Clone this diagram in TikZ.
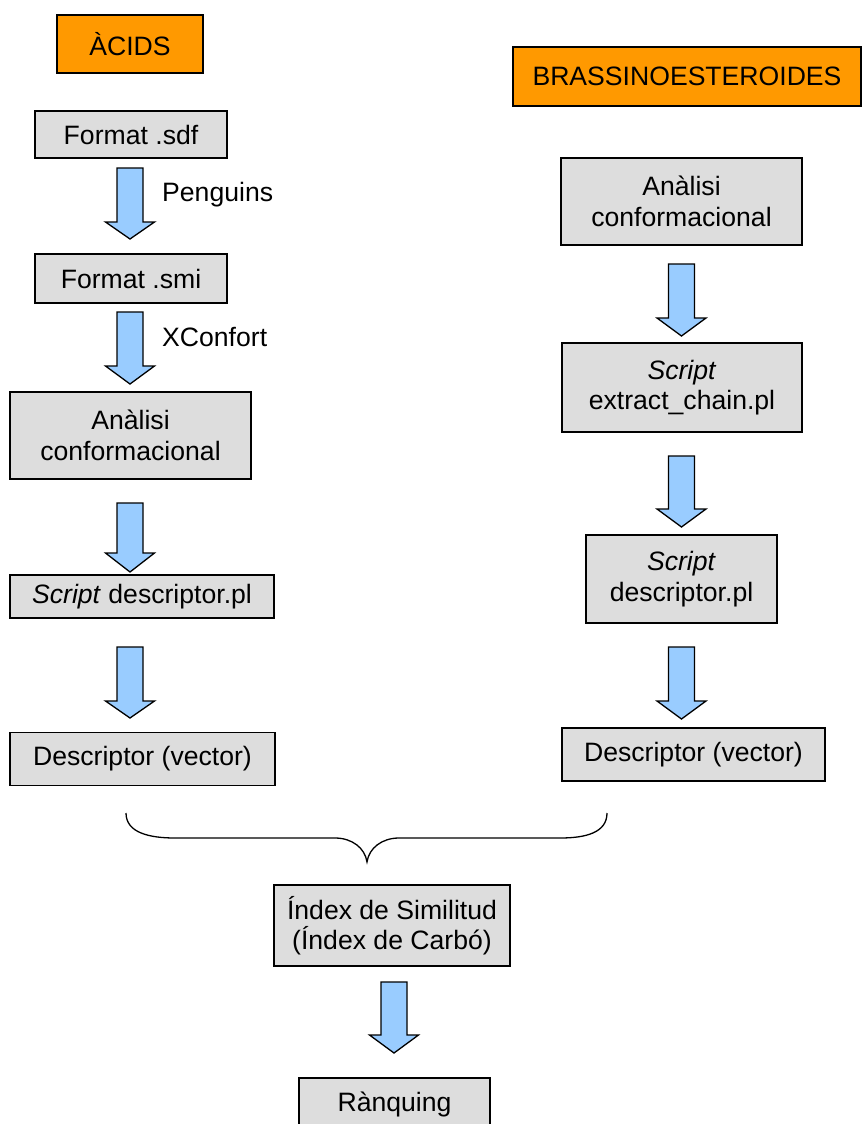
\documentclass[tikz,border=0pt]{standalone}
\usepackage{fontspec}
\setmainfont{Liberation Sans}
\begin{document}
\begin{tikzpicture}[x=1pt,y=-1pt,
  every node/.style={font=\fontsize{26.6}{30.5}\selectfont, inner sep=0pt, align=center},
  procbox/.style={draw=black, line width=1.2pt, fill=boxgray},
  titlebox/.style={draw=black, line width=2.8pt, fill=titleorange},
  bigarrow/.style={draw=black, line width=1.3pt, fill=arrowblue, line join=miter},
  label/.style={anchor=base west},
  bracket/.style={draw=black, line width=1.3pt}]
\definecolor{boxgray}{HTML}{DDDDDD}
\definecolor{titleorange}{HTML}{FF9900}
\definecolor{arrowblue}{HTML}{99CCFF}

\useasboundingbox (0,0) rectangle (863,1124);
\clip (0,0) rectangle (863,1124);

% hollow down arrow: centre x, top y, start of head y, tip y
\newcommand\flowarrow[4]{%
  \draw[bigarrow] (#1-13,#2) -- (#1+13,#2) -- (#1+13,#3) -- (#1+24.5,#3)
    -- (#1,#4) -- (#1-24.5,#3) -- (#1-13,#3) -- cycle;}

% left column: acids
\node[titlebox, minimum width=146pt, minimum height=58pt] (acids) at (130,44) {ÀCIDS};
\node[procbox, minimum width=192pt, minimum height=47pt] (sdf) at (131,134.5) {Format .sdf};
\node[procbox, minimum width=192pt, minimum height=49pt] (smi) at (131,278.5) {Format .smi};
\node[procbox, minimum width=241pt, minimum height=87pt] (confL) at (130.5,435.5) {Anàlisi\\conformacional};
\node[procbox, minimum width=264pt, minimum height=43pt] (scriptL) at (142,596.5) {\textit{Script} descriptor.pl};
\node[procbox, minimum width=265pt, minimum height=53pt] (descL) at (142.5,759) {Descriptor (vector)};

\flowarrow{130}{168}{222}{239}
\flowarrow{130}{312}{366}{384}
\flowarrow{130}{503}{553}{572}
\flowarrow{130}{647}{701}{718}

\node[label] (penguins) at (162,201) {Penguins};
\node[label] (xconfort) at (162,346) {XConfort};

% right column: brassinosteroids
\node[titlebox, minimum width=348pt, minimum height=59pt] (brass) at (687,76.5) {BRASSINOESTEROIDES};
\node[procbox, minimum width=241pt, minimum height=87pt] (confR) at (681.5,201.5) {Anàlisi\\conformacional};
\node[procbox, minimum width=240pt, minimum height=89pt] (chainR) at (682,387.5) {\textit{Script}\\extract\_chain.pl};
\node[procbox, minimum width=191pt, minimum height=88pt] (scriptR) at (681.5,579) {\textit{Script}\\descriptor.pl};
\node[procbox, minimum width=263pt, minimum height=53pt] (descR) at (693.5,754.5) {Descriptor (vector)};

\flowarrow{681.5}{264}{318}{336}
\flowarrow{681.5}{456}{509}{527}
\flowarrow{681.5}{647}{701}{719}

% joining brace
\coordinate (braceL) at (126,813);
\coordinate (braceR) at (607,813);
\coordinate (braceTip) at (367,862);
\draw[bracket] (braceL) .. controls (126,833) and (150,838) .. (175,838) -- (335,838)
  .. controls (352,838) and (365,848) .. (braceTip)
  .. controls (369,848) and (382,838) .. (399,838) -- (560,838)
  .. controls (585,838) and (607,833) .. (braceR);

% bottom: similarity and ranking
\node[procbox, minimum width=236pt, minimum height=81pt] (index) at (392,925.5) {Índex de Similitud\\(Índex de Carbó)};
\flowarrow{394}{982}{1035}{1053}
\node[procbox, minimum width=191pt, minimum height=52pt] (rank) at (394.5,1104) {Rànquing};
\end{tikzpicture}
\end{document}
